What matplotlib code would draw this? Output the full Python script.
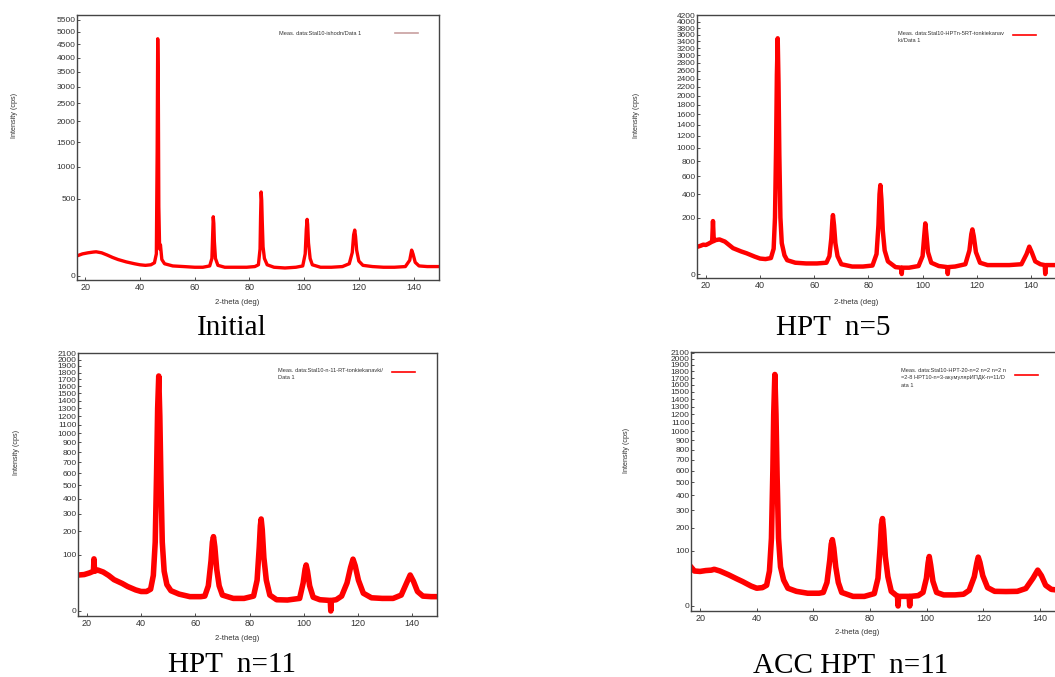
import numpy as np
import matplotlib.pyplot as plt
from matplotlib import font_manager
from matplotlib.lines import Line2D

# ---- data (2-theta in deg, intensity in cps) ----
tth_initial = [17, 19, 21, 23, 24, 26, 28, 30, 32, 35, 38, 40, 42, 44, 45.3, 46.0, 46.3, 46.5, 46.7, 46.9,
               47.2, 47.5, 48.0, 49, 52, 56, 60, 63, 65.5, 66.3, 66.6, 66.8, 67.0, 67.2, 67.6, 68.5, 71, 75, 79, 82,
               83.3, 83.9, 84.1, 84.3, 84.5, 84.7, 85.0, 85.5, 86.5, 89, 93, 97, 99.5, 100.4, 100.8, 101.1, 101.3,
               101.6, 102.2, 103, 106, 110, 114, 116.5, 117.6, 118.1, 118.5, 118.8, 119.2, 120, 121.5, 125, 129,
               133, 137, 138.6, 139.3, 139.8, 140.6, 142, 145, 149.5]
cps_initial = [33, 40, 44, 47, 48, 44, 36, 28, 22, 16, 12, 10, 9, 10, 14, 40, 1300, 4720, 3200, 400,
               60, 80, 22, 12, 8, 7, 6, 6, 8, 25, 150, 292, 230, 100, 25, 9, 6, 6, 6, 7,
               10, 60, 300, 589, 480, 250, 70, 25, 10, 6, 5, 6, 8, 40, 180, 267, 220,
               90, 25, 10, 6, 6, 7, 12, 45, 140, 175, 130, 55, 18, 9, 7, 6,
               6, 7, 20, 55, 40, 15, 8, 7, 7]

tth_n5 = [17, 18, 19, 20, 21, 22.3, 22.6, 22.9, 23.5, 25, 27, 30, 33, 35, 38, 40, 42, 44, 45.0, 45.5,
          45.9, 46.2, 46.5, 46.8, 47.1, 47.5, 48.0, 49, 50, 53, 57, 61, 64.5, 65.6, 66.3, 66.7, 66.9, 67.3,
          67.8, 68.6, 70, 74, 78, 81.5, 83.0, 83.7, 84.1, 84.4, 84.8, 85.3, 86.0, 87.2, 90, 92.1, 92.3, 92.5,
          95, 98.5, 100.0, 100.6, 101.0, 101.4, 102.0, 103.2, 106, 109.1, 109.3, 109.5, 112, 115.8, 117.3,
          118.0, 118.4, 118.9, 119.7, 121.2, 124, 128, 132, 136.5, 138.4, 139.4, 140.3, 141.6, 143.5, 145.1,
          145.3, 145.5, 147, 149]
cps_n5 = [47, 50, 54, 53, 58, 66, 176, 68, 72, 75, 66, 42, 32, 27, 19, 15, 14, 16, 40, 200,
          1000, 2500, 3490, 2300, 900, 200, 60, 22, 12, 8, 7, 7, 8, 20, 80, 180, 218, 150,
          60, 20, 6, 3.5, 3.5, 4.5, 25, 150, 400, 497, 350, 120, 35, 10, 3, 2.5, 0, 2.5,
          2.5, 4, 20, 90, 161, 100, 30, 8, 4, 3, 0, 3, 3.5, 6, 35,
          100, 125, 90, 30, 8, 5, 5, 5, 6, 25, 47, 30, 10, 6, 5,
          0, 5, 5, 5]

tth_n11 = [17, 19, 21, 22.4, 22.6, 22.8, 24, 26, 28, 30, 33, 35, 38, 40, 42, 43.5, 44.5, 45.2, 45.7, 46.1,
           46.5, 46.9, 47.3, 47.8, 48.5, 49.5, 51, 54, 58, 62, 63.5, 64.8, 65.8, 66.3, 66.7, 67.2, 67.9, 68.8,
           70, 74, 78, 81.5, 82.8, 83.6, 84.0, 84.3, 84.7, 85.3, 86.2, 87.5, 90, 94, 98.5, 99.8, 100.5, 100.9,
           101.4, 102.2, 103.5, 106, 109.8, 110.0, 110.2, 112, 114, 116, 117.3, 118.2, 119.0, 120.2, 122, 125,
           129, 133, 136, 138, 139.3, 140.5, 142, 144, 147, 149]
cps_n11 = [41, 42, 46, 50, 86, 50, 53, 48, 40, 31, 24, 19, 14, 12, 12, 15, 40, 150, 600, 1300,
           1748, 1200, 550, 150, 50, 22, 13, 9, 6.5, 6.5, 7, 20, 80, 150, 175, 130, 55, 20,
           8, 5, 5, 7, 30, 130, 230, 268, 210, 90, 30, 8, 4, 3.8, 5, 25, 55, 67,
           50, 20, 6, 4, 3.5, 0, 3.5, 4, 7, 25, 60, 85, 65, 30, 10, 5.5,
           5, 5, 8, 25, 41, 28, 12, 7, 6.5, 6.5]

tth_acc = [17, 18, 20, 22, 24, 25, 27, 30, 33, 35, 38, 40, 42, 43.5, 44.5, 45.2, 45.7, 46.0, 46.4, 46.8,
           47.2, 47.7, 48.4, 49.5, 51, 54, 58, 62, 63.5, 64.8, 65.8, 66.3, 66.7, 67.2, 67.9, 68.8, 70, 74, 78,
           81.5, 82.8, 83.6, 84.0, 84.4, 84.8, 85.4, 86.3, 87.5, 89.7, 89.9, 90.1, 92, 93.8, 94.0, 94.2, 97,
           98.7, 99.9, 100.5, 100.9, 101.4, 102.2, 103.5, 106, 110, 113, 115, 116.8, 117.7, 118.2, 118.8,
           119.8, 121.5, 124, 128, 132, 135, 137.5, 139.2, 140.5, 142, 144, 145.5]
cps_acc = [48, 40, 39, 41, 42, 44, 40, 32, 24, 19.5, 13, 10.3, 11, 14, 40, 150, 600, 1200, 1753, 1200,
           550, 150, 50, 22, 10.3, 7, 5.3, 5.3, 6, 18, 70, 125, 144, 110, 50, 18, 6, 3, 3,
           5, 25, 120, 215, 250, 190, 80, 28, 7, 3, 0, 3, 3, 3, 0, 3, 3.5,
           6, 25, 60, 80, 55, 20, 6, 4, 4, 4.5, 8, 28, 60, 78, 62,
           30, 11, 7, 6.8, 7, 10, 25, 42, 30, 14, 9, 8.5]

xticks = [20, 40, 60, 80, 100, 120, 140]
yticks_initial = list(range(0, 5501, 500))
yticks_n5 = list(range(0, 4201, 200))
yticks_n11 = list(range(0, 2101, 100))

legend_initial = "Meas. data:Stal10-ishodn/Data 1"
legend_n5 = "Meas. data:Stal10-HPTn-5RT-tonkiekanav\nki/Data 1"
legend_n11 = "Meas. data:Stal10-n-11-RT-tonkiekanavki/\nData 1"
legend_acc = "Meas. data:Stal10-HPT-20-n=2 n=2 n=2 n\n=2-8 HPT10-n=3-акумулярИПДК-n=11/D\nata 1"

captions = ["Initial", "HPT  n=5", "HPT  n=11", "ACC HPT  n=11"]

W, H = 1055, 677

# narrow sans for the instrument-style labels, if the system has one
names = {f.name for f in font_manager.fontManager.ttflist}
if 'Liberation Sans Narrow' in names:
    SANS, TICK = ['Liberation Sans Narrow', 'DejaVu Sans'], 7
else:
    SANS, TICK = ['Liberation Sans', 'DejaVu Sans'], 6
plt.rcParams['font.family'] = SANS


def fwd(v):
    v = np.asarray(v, dtype=float)
    return np.sign(v) * np.sqrt(np.abs(v))


def inv(v):
    v = np.asarray(v, dtype=float)
    return np.sign(v) * v ** 2


def px(x, y):
    return x / W, 1 - y / H


def panel(fig, box, tth, cps, yticks, xlim, ylim, lw, label, hcolor, leg_xy, gap, hh,
          ylab_xy, xlab_xy, hide_right=False):
    l, t, r, b = box
    ax = fig.add_axes([l / W, 1 - b / H, (r - l) / W, (b - t) / H])
    ax.plot(tth, cps, color='#ff0000', lw=lw, solid_joinstyle='round')
    ax.set_yscale('function', functions=(fwd, inv))
    ax.set_xlim(*xlim)
    ax.set_ylim(*ylim)
    ax.set_xticks(xticks)
    ax.set_yticks(yticks)
    ax.set_yticklabels([str(v) for v in yticks])
    ax.minorticks_off()
    ax.tick_params(axis='both', direction='in', length=2, width=0.6, colors='#333333',
                   labelsize=TICK, pad=1)
    ax.tick_params(axis='x', pad=2, labelsize=TICK + 0.5)
    for s in ax.spines.values():
        s.set_color('#444444')
        s.set_linewidth(1.0)
    if hide_right:
        ax.spines['right'].set_visible(False)
    ax.set_xlabel('2-theta (deg)', fontsize=5.5, color='#333333')
    ax.set_ylabel('Intensity (cps)', fontsize=5.2, color='#333333')
    ax.xaxis.set_label_coords(*px(*xlab_xy), transform=fig.transFigure)
    ax.yaxis.set_label_coords(*px(*ylab_xy), transform=fig.transFigure)
    ax.xaxis.label.set_va('center')
    ax.yaxis.label.set_va('center')
    h = Line2D([], [], color=hcolor, lw=1.2)
    leg = ax.legend(handles=[h], labels=[label], loc='upper left', markerfirst=False, frameon=False,
                    prop={'family': ['Liberation Sans', 'DejaVu Sans'], 'size': 4.1},
                    labelcolor='#333333', handlelength=4.0, handletextpad=gap, handleheight=hh,
                    borderpad=0, borderaxespad=0,
                    bbox_to_anchor=px(*leg_xy), bbox_transform=fig.transFigure)
    for tx in leg.get_texts():
        tx.set_linespacing(1.6)
    return ax


fig = plt.figure(figsize=(W / 100, H / 100), dpi=100)

panel(fig, (77, 15, 439, 280), tth_initial, cps_initial, yticks_initial, (17, 149.3), (-1.56, 5715),
      2.4, legend_initial, '#c8a0a0', (279, 31), 6.0, 0.7, (15, 115), (237, 303))
panel(fig, (697, 15, 1055, 278), tth_n5, cps_n5, yticks_n5, (16.7, 148.9), (-1.0, 4213),
      3.2, legend_n5, '#ff0000', (898, 31), 1.6, 2.7, (636, 115), (856, 302), hide_right=True)
panel(fig, (78, 353, 437, 616), tth_n11, cps_n11, yticks_n11, (16.7, 149.2), (-0.8, 2107),
      4.0, legend_n11, '#ff0000', (278, 368), 1.6, 2.7, (17, 452), (237, 639))
panel(fig, (691, 352, 1055, 611), tth_acc, cps_acc, yticks_n11, (16.8, 145.3), (-0.83, 2110),
      4.0, legend_acc, '#ff0000', (901, 368), 1.6, 4.3, (626, 450), (857, 633), hide_right=True)

cap_pos = [(232, 328), (833, 328), (232, 665), (851, 666)]
for text, (cx, cy) in zip(captions, cap_pos):
    fig.text(*px(cx, cy), text, ha='center', va='center', fontsize=21,
             family='Liberation Serif', color='black')

fig.savefig('out.png', dpi=100)
